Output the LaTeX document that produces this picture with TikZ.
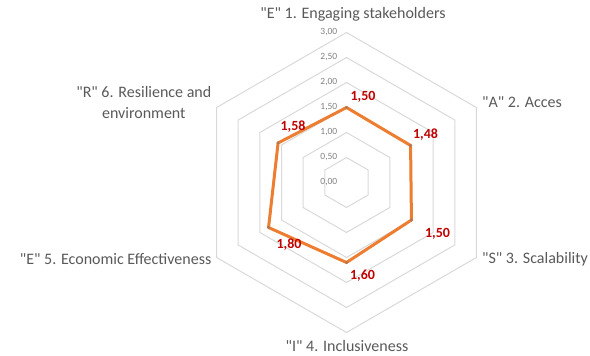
\documentclass[tikz,border=0pt]{standalone}
\usepackage{fontspec}
\setmainfont{Carlito}[Ligatures=TeXOff]
\usetikzlibrary{positioning,calc}
\definecolor{gridgray}{RGB}{217,217,217}
\definecolor{textgray}{RGB}{89,89,89}
\definecolor{tickgray}{RGB}{128,128,128}
\definecolor{lineorange}{RGB}{237,125,49}
\definecolor{markgray}{RGB}{170,120,90}
\definecolor{valred}{RGB}{192,0,0}
\def\val(#1){\textcolor{valred}{\bfseries #1}}
\tikzstyle{grid} = [draw=gridgray, line width=1pt, line join=miter]
\tikzstyle{axislabel} = [text=textgray, font=\fontsize{16}{20.4}\selectfont, inner sep=0pt]
\tikzstyle{ticklabel} = [text=tickgray, font=\fontsize{9.5}{11}\selectfont, anchor=east, inner sep=0pt]
\tikzstyle{vallabel} = [font=\fontsize{14}{16}\selectfont, inner sep=0pt]
\tikzstyle{dataline} = [draw=lineorange, line width=3pt, line join=round]

\begin{document}
\begin{tikzpicture}[x=50pt,y=50pt]
\useasboundingbox (-6.93,-3.47) rectangle (4.87,3.65);
% hexagon grid
\foreach \r in {0.5,1,...,3}
  \draw [grid] (90:\r) -- (30:\r) -- (-30:\r) -- (-90:\r) -- (-150:\r) -- (150:\r) -- cycle;
% tick values
\foreach \r/\t in {0/{0,00},0.5/{0,50},1/{1,00},1.5/{1,50},2/{2,00},2.5/{2,50},3/{3,00}}
  \node [ticklabel] at (-0.18,\r) {\t};
% data
\coordinate (p1) at (90:1.50);
\coordinate (p2) at (30:1.48);
\coordinate (p3) at (-30:1.50);
\coordinate (p4) at (-90:1.60);
\coordinate (p5) at (-150:1.80);
\coordinate (p6) at (150:1.58);
\draw [dataline] (p1)--(p2)--(p3)--(p4)--(p5)--(p6)--cycle;
\foreach \p in {p1,p2,p3,p4,p5,p6}
  \fill [markgray] (\p) circle (1.6pt);
% axis names
\node (a1) [axislabel] at (0.13,3.37) {"E" 1. Engaging stakeholders};
\node (a2) [axislabel, anchor=west] at (2.71,1.60) {"A" 2. Acces};
\node (a3) [axislabel, anchor=west] at (2.71,-1.53) {"S" 3. Scalability};
\node (a4) [axislabel] at (0.01,-3.28) {"I" 4. Inclusiveness};
\node (a5) [axislabel, anchor=east] at (-2.70,-1.54) {"E" 5. Economic Effectiveness};
\node (a6) [axislabel, anchor=east, align=center] at (-2.70,1.60) {"R" 6. Resilience and\\environment};
% values
\node (v1) [vallabel] at (0.33,1.72) {\val(1,50)};
\node (v2) [vallabel] at (1.58,0.95) {\val(1,48)};
\node (v3) [vallabel] at (1.82,-1.03) {\val(1,50)};
\node (v4) [vallabel] at (0.32,-1.87) {\val(1,60)};
\node (v5) [vallabel] at (-1.15,-1.25) {\val(1,80)};
\node (v6) [vallabel] at (-1.07,1.12) {\val(1,58)};
\end{tikzpicture}
\end{document}
